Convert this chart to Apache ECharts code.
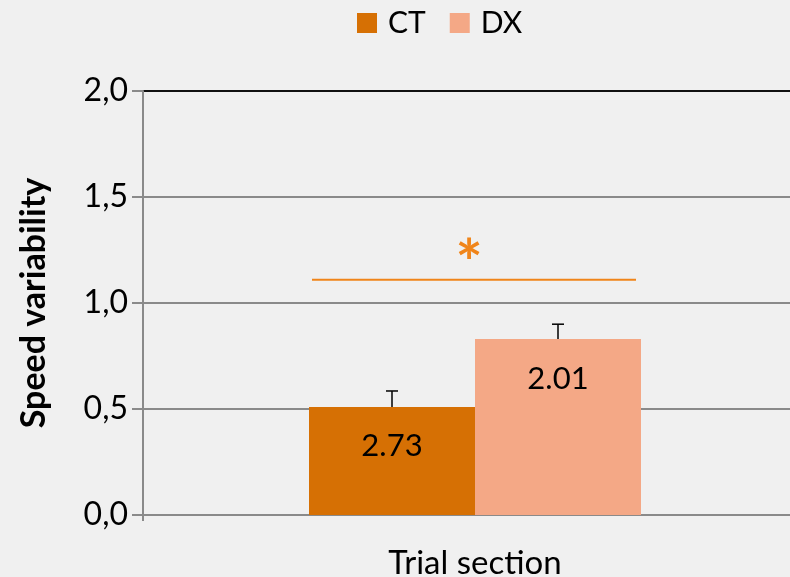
<!DOCTYPE html>
<html>
<head>
<meta charset="utf-8">
<script src="https://cdn.jsdelivr.net/npm/echarts@6/dist/echarts.min.js"></script>
<style>
  html, body { margin: 0; padding: 0; background: #f0f0f0; }
  #chart { width: 790px; height: 577px; }
</style>
</head>
<body>
<div id="chart"></div>
<script>
// Speed variability per group in the trial section
const categories = [''];
const groups = ['CT', 'DX'];
const ctValues = [0.51];
const dxValues = [0.83];
const ctErrTop = [0.585];
const dxErrTop = [0.90];
const barLabels = ['2.73', '2.01'];
const sigLevel = 1.11;
const sigMark = '*';
const yTicks = [0, 0.5, 1.0, 1.5, 2.0];

const colors = { CT: '#d67004', DX: '#f4a886', sig: '#f0851a' };
const font = 'Lato, "Open Sans", sans-serif';

const chart = echarts.init(document.getElementById('chart'));

function errorBar(side) {
  return function (params, api) {
    const band = api.size([1, 0])[0];
    const barW = band * 0.25;
    const c = api.coord([api.value(0), 0]);
    const cx = side === 0 ? c[0] - barW / 2 : c[0] + barW / 2;
    const top = api.coord([api.value(0), api.value(1)])[1];
    const base = api.coord([api.value(0), api.value(2)])[1];
    const style = { stroke: '#000', lineWidth: 1.5 };
    return {
      type: 'group',
      children: [
        { type: 'line', shape: { x1: cx, y1: base, x2: cx, y2: top }, style },
        { type: 'line', shape: { x1: cx - 6, y1: top, x2: cx + 6, y2: top }, style }
      ]
    };
  };
}

const option = {
  backgroundColor: '#f0f0f0',
  animation: false,
  textStyle: { fontFamily: font },
  legend: {
    data: groups,
    top: 3,
    left: 352,
    itemWidth: 20,
    itemHeight: 20,
    itemGap: 24,
    icon: 'rect',
    textStyle: { fontSize: 30, color: '#000', fontFamily: font, padding: [0, 0, 0, 6] }
  },
  grid: { left: 143, top: 91, width: 664, height: 424, containLabel: false, outerBoundsMode: 'none' },
  xAxis: {
    type: 'category',
    data: categories,
    name: 'Trial section',
    nameLocation: 'middle',
    nameGap: 32,
    nameTextStyle: { fontSize: 33, color: '#000', fontFamily: font },
    axisLine: { lineStyle: { color: '#8a8a8a', width: 2 } },
    axisTick: { show: true, length: 6, lineStyle: { color: '#8a8a8a', width: 2 } },
    axisLabel: { show: false }
  },
  yAxis: {
    type: 'value',
    min: 0,
    max: 2,
    interval: 0.5,
    name: 'Speed variability',
    nameLocation: 'middle',
    nameGap: 92,
    nameTextStyle: { fontSize: 34, fontWeight: 'bold', color: '#000', fontFamily: font },
    axisLine: { show: true, lineStyle: { color: '#8a8a8a', width: 2 } },
    axisTick: { show: true, length: 11, lineStyle: { color: '#8a8a8a', width: 2 } },
    axisLabel: {
      fontSize: 32,
      color: '#000',
      margin: 15,
      fontFamily: font,
      formatter: v => yTicks.includes(v) ? v.toFixed(1).replace('.', ',') : ''
    },
    splitLine: {
      show: true,
      lineStyle: { color: ['#8a8a8a', '#8a8a8a', '#8a8a8a', '#8a8a8a', '#111'], width: 2 }
    }
  },
  series: [
    {
      name: 'CT',
      type: 'bar',
      data: ctValues,
      barWidth: '25%',
      barGap: '0%',
      itemStyle: { color: colors.CT },
      label: {
        show: true,
        position: 'insideTop',
        distance: 24,
        formatter: () => barLabels[0],
        fontSize: 31,
        color: '#000',
        fontFamily: font
      },
      z: 2
    },
    {
      name: 'DX',
      type: 'bar',
      data: dxValues,
      barWidth: '25%',
      barGap: '0%',
      itemStyle: { color: colors.DX },
      label: {
        show: true,
        position: 'insideTop',
        distance: 24,
        formatter: () => barLabels[1],
        fontSize: 31,
        color: '#000',
        fontFamily: font
      },
      z: 2
    },
    {
      type: 'custom',
      renderItem: errorBar(0),
      data: categories.map((c, i) => [i, ctErrTop[i], ctValues[i]]),
      z: 3,
      silent: true
    },
    {
      type: 'custom',
      renderItem: errorBar(1),
      data: categories.map((c, i) => [i, dxErrTop[i], dxValues[i]]),
      z: 3,
      silent: true
    },
    {
      // significance bracket spanning both bars
      type: 'custom',
      silent: true,
      z: 4,
      data: categories.map((c, i) => [i, sigLevel]),
      renderItem: function (params, api) {
        const band = api.size([1, 0])[0];
        const barW = band * 0.25;
        const c = api.coord([api.value(0), api.value(1)]);
        const x1 = c[0] - barW + 3;
        const x2 = c[0] + barW - 5;
        return {
          type: 'group',
          children: [
            {
              type: 'line',
              shape: { x1, y1: c[1], x2, y2: c[1] },
              style: { stroke: colors.sig, lineWidth: 2 }
            },
            {
              type: 'text',
              x: (x1 + x2) / 2 - 5,
              y: c[1] - 14,
              style: {
                text: sigMark,
                fill: colors.sig,
                font: 'bold 64px ' + font,
                align: 'center',
                verticalAlign: 'middle'
              }
            }
          ]
        };
      }
    }
  ]
};

chart.setOption(option);
</script>
</body>
</html>
